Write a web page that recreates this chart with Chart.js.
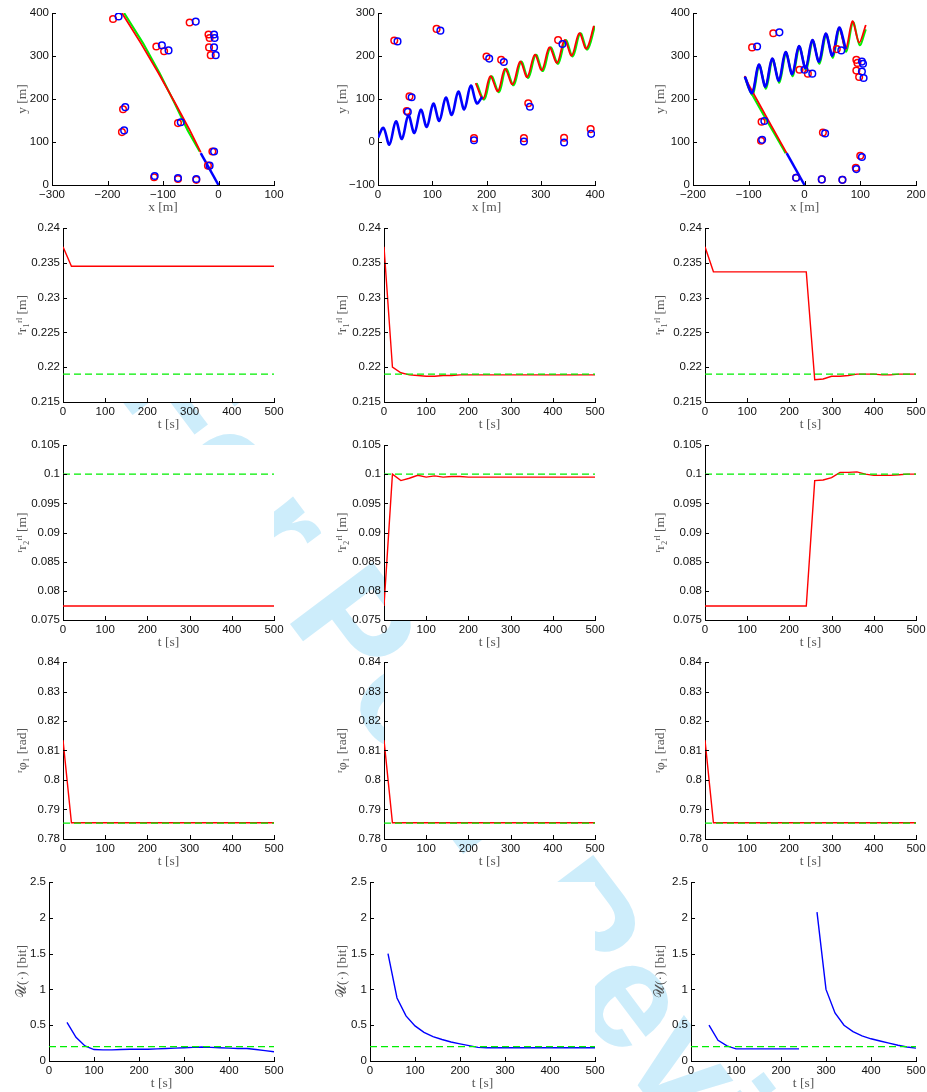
<!DOCTYPE html>
<html>
<head>
<meta charset="utf-8">
<script src="https://cdn.jsdelivr.net/npm/chart.js@4.4.1/dist/chart.umd.min.js"></script>
<style>
  html, body { margin: 0; padding: 0; background: #fff; width: 927px; height: 1092px; overflow: hidden; position: relative; }
  canvas { position: absolute; }
  #wm {
    position: absolute; left: -147px; top: 737px; width: 1300px; height: 180px;
    line-height: 180px; text-align: center; white-space: nowrap;
    font: bold 150px "Liberation Sans", Arial, sans-serif; color: #cdedfb;
    transform: rotate(53deg);
  }
</style>
</head>
<body>
<div id="wm">For Peer Review</div>
<script>
// time axis (rows 2-5)
const t = [0,20,40,60,80,100,120,140,160,180,200,220,240,260,280,300,320,340,360,380,400,420,440,460,480,500];

// row 1 : trajectories [x, y] in metres
const trajA_blue  = [[0,0],[-32,74]];
const trajA_red   = [[-32,76],[-52,128],[-78,190],[-108,260],[-140,330],[-174,400]];
const trajA_green = [[-34,78],[-56,128],[-79,190],[-106,260],[-136,330],[-170,400]];
const markA_red  = [[-190,386],[-52,378],[-112,322],[-98,311],[-18,350],[-16,342],[-17,320],[-14,302],[-172,176],[-174,123],[-73,144],[-11,78],[-19,45],[-116,18],[-73,14],[-40,12]];
const markA_blue = [[-180,392],[-41,380],[-102,325],[-90,313],[-8,350],[-7,342],[-8,320],[-5,302],[-168,181],[-170,127],[-68,146],[-8,78],[-16,45],[-115,21],[-73,16],[-40,14]];

const trajB_blue  = [[0,10],[10,33],[21,-6],[33,48],[44,7],[56,62],[67,21],[79,75],[90,35],[102,89],[113,49],[125,103],[136,63],[148,117],[159,76],[171,131],[182,90],[192,105]];
const trajB_red   = [[180,137],[194,101],[207,153],[221,118],[234,170],[248,134],[262,187],[275,151],[289,203],[302,167],[316,220],[330,184],[344,237],[357,201],[371,253],[384,217],[398,270]];
const trajB_green = [[182,137],[196,99],[209,153],[223,116],[236,170],[250,132],[264,187],[277,149],[291,203],[304,165],[318,220],[332,182],[346,237],[359,199],[373,253],[386,215],[400,270]];
const markB_red  = [[30,236],[108,263],[200,199],[227,191],[332,237],[58,106],[53,72],[277,90],[177,9],[269,9],[343,10],[392,30]];
const markB_blue = [[36,234],[115,259],[205,194],[232,186],[340,228],[62,104],[55,70],[280,82],[177,4],[269,1],[343,-1],[393,19]];

const trajC_blue1 = [[0,0],[-32,74]];
const trajC_blue2 = [[-107,252],[-94,214],[-82,280],[-70,229],[-58,294],[-46,243],[-34,309],[-22,258],[-10,323],[2,272],[14,337],[26,287],[38,352],[50,301],[62,366],[74,316]];
const trajC_red   = [[-32,74],[-98,228],[-107,252],[-94,214],[-82,280],[-70,229],[-58,294],[-46,243],[-34,309],[-22,258],[-10,323],[2,272],[14,337],[26,287],[38,352],[50,301],[62,366],[74,316],[86,381],[98,331],[110,372]];
const trajC_green = [[-34,74],[-100,225],[-106,250],[-93,209],[-81,278],[-69,224],[-57,292],[-45,238],[-33,307],[-21,253],[-9,321],[3,267],[15,335],[27,282],[39,350],[51,296],[63,364],[75,310],[87,379],[99,325],[110,362]];
const markC_red  = [[-94,320],[-56,353],[-9,268],[6,259],[58,316],[93,291],[95,284],[93,266],[98,251],[-77,147],[-78,103],[33,122],[100,68],[92,40],[-15,17],[31,13],[68,12]];
const markC_blue = [[-85,322],[-45,355],[0,268],[14,259],[66,313],[103,287],[105,282],[103,264],[106,249],[-72,149],[-76,105],[37,120],[103,65],[93,37],[-15,17],[31,13],[68,12]];

// row 2 : r1 [m]
const r1Ref = 0.219;
const r1A = [0.2373,0.2345,0.2345,0.2345,0.2345,0.2345,0.2345,0.2345,0.2345,0.2345,0.2345,0.2345,0.2345,0.2345,0.2345,0.2345,0.2345,0.2345,0.2345,0.2345,0.2345,0.2345,0.2345,0.2345,0.2345,0.2345];
const r1B = [0.2373,0.2200,0.2192,0.2189,0.2188,0.2187,0.2187,0.2188,0.2188,0.2189,0.2189,0.2189,0.2189,0.2189,0.2189,0.2189,0.2189,0.2189,0.2189,0.2189,0.2189,0.2189,0.2189,0.2189,0.2189,0.2189];
const r1C = [0.2373,0.2337,0.2337,0.2337,0.2337,0.2337,0.2337,0.2337,0.2337,0.2337,0.2337,0.2337,0.2337,0.2182,0.2183,0.2187,0.2187,0.2188,0.2190,0.2190,0.2190,0.2189,0.2189,0.2190,0.2190,0.2190];

// row 3 : r2 [m]
const r2Ref = 0.1;
const r2A = [0.0774,0.0774,0.0774,0.0774,0.0774,0.0774,0.0774,0.0774,0.0774,0.0774,0.0774,0.0774,0.0774,0.0774,0.0774,0.0774,0.0774,0.0774,0.0774,0.0774,0.0774,0.0774,0.0774,0.0774,0.0774,0.0774];
const r2B = [0.0774,0.1000,0.0989,0.0993,0.0998,0.0995,0.0997,0.0995,0.0996,0.0996,0.0995,0.0995,0.0995,0.0995,0.0995,0.0995,0.0995,0.0995,0.0995,0.0995,0.0995,0.0995,0.0995,0.0995,0.0995,0.0995];
const r2C = [0.0774,0.0774,0.0774,0.0774,0.0774,0.0774,0.0774,0.0774,0.0774,0.0774,0.0774,0.0774,0.0774,0.0989,0.0990,0.0994,0.1003,0.1003,0.1004,0.1000,0.0998,0.0998,0.0998,0.0999,0.1000,0.1000];

// row 4 : phi1 [rad]
const phiRef = 0.7854;
const phiA = [0.8135,0.7855,0.7855,0.7855,0.7855,0.7855,0.7855,0.7855,0.7855,0.7855,0.7855,0.7855,0.7855,0.7855,0.7855,0.7855,0.7855,0.7855,0.7855,0.7855,0.7855,0.7855,0.7855,0.7855,0.7855,0.7855];
const phiB = phiA.slice();
const phiC = phiA.slice();

// row 5 : U [bit]
const uRef = 0.2;
const uA = [null,null,0.54,0.33,0.21,0.16,0.155,0.155,0.16,0.165,0.165,0.165,0.17,0.175,0.18,0.185,0.19,0.195,0.19,0.185,0.18,0.175,0.175,0.16,0.145,0.13];
const uB = [null,null,1.50,0.88,0.63,0.49,0.40,0.34,0.30,0.265,0.24,0.215,0.19,0.185,0.185,0.185,0.185,0.185,0.185,0.185,0.185,0.185,0.185,0.185,0.185,0.185];
const uC = [null,null,0.50,0.29,0.21,0.17,0.17,0.17,0.17,0.17,0.17,0.17,0.17,null,2.08,1.00,0.67,0.50,0.41,0.35,0.31,0.28,0.25,0.22,0.195,0.18];

const RED = '#ff0000', GREEN = '#00ee00', BLUE = '#0000ff';

const pairs = a => a.map(([x, y]) => ({x, y}));
const series = ys => t.map((x, i) => ({x, y: ys[i]}));
const flat = v => [{x: 0, y: v}, {x: 500, y: v}];

const line = (data, color, w, dash) => ({
  data, borderColor: color, borderWidth: w, borderDash: dash || [],
  showLine: true, pointRadius: 0, tension: 0, fill: false
});
const zig = (data, color, w, k) => Object.assign(line(data, color, w), {tension: k || 0.35});
const marks = (data, color) => ({
  data, showLine: false, pointRadius: 3.3, pointBorderWidth: 1.5,
  pointBorderColor: color, pointBackgroundColor: 'rgba(0,0,0,0)'
});

// white axes background + inward matlab-style ticks
const axesBox = {
  id: 'axesBox',
  beforeDraw(chart) {
    const a = chart.chartArea, ctx = chart.ctx;
    ctx.save();
    ctx.fillStyle = '#fff';
    ctx.fillRect(a.left, a.top, a.right - a.left, a.bottom - a.top);
    ctx.restore();
  },
  afterDraw(chart) {
    const ctx = chart.ctx, a = chart.chartArea;
    const xs = chart.scales.x, ys = chart.scales.y;
    ctx.save();
    ctx.strokeStyle = '#000';
    ctx.lineWidth = 1;
    ctx.beginPath();
    xs.ticks.forEach(tk => {
      const p = Math.round(xs.getPixelForValue(tk.value)) + 0.5;
      ctx.moveTo(p, a.bottom); ctx.lineTo(p, a.bottom - 4);
    });
    ys.ticks.forEach(tk => {
      const p = Math.round(ys.getPixelForValue(tk.value)) + 0.5;
      ctx.moveTo(a.left, p); ctx.lineTo(a.left + 4, p);
    });
    ctx.stroke();
    ctx.restore();
  }
};

const fmt = v => String(parseFloat(Number(v).toFixed(4))).replace('-', '\u2212');

// layout of the 5x3 grid
const colX = [[[52,274],[378,595],[693,916]],
              [[63,274],[384,595],[705,916]],
              [[63,274],[384,595],[705,916]],
              [[63,274],[384,595],[705,916]],
              [[49,274],[370,595],[691,916]]];
const rowY = [[13,185],[228,402],[445,620],[662,839],[882,1061]];
const titleX = [22, 342, 660];

function panel(row, col, datasets, xr, yr, xTitle, yTitle) {
  const [L, R] = colX[row][col], [T, B] = rowY[row];
  const padL = L - titleX[col] + 8, padT = 10, padR = 16, padB = 31;
  const cv = document.createElement('canvas');
  const w = padL + (R - L) + padR, h = padT + (B - T) + padB;
  cv.width = w; cv.height = h;
  cv.style.left = (L - padL) + 'px';
  cv.style.top = (T - padT) + 'px';
  cv.style.width = w + 'px'; cv.style.height = h + 'px';
  document.body.appendChild(cv);
  const tickFont = {family: '"Liberation Sans", Arial, sans-serif', size: 11.5};
  const titleFont = {family: '"Liberation Serif", "DejaVu Serif", serif', size: 13.5};
  const axis = (r, title, isX) => ({
    type: 'linear', min: r[0], max: r[1],
    grid: {drawOnChartArea: false, drawTicks: false},
    border: {display: true, color: '#000', width: 1},
    ticks: {stepSize: r[2], font: tickFont, color: '#111', padding: 3,
            maxRotation: 0, autoSkip: false, callback: fmt},
    title: {display: true, text: title, font: titleFont, color: '#555', padding: 0},
    afterFit: s => { if (isX) s.height = padB; else s.width = padL; }
  });
  new Chart(cv, {
    type: 'scatter',
    data: {datasets},
    options: {
      responsive: false, animation: false,
      layout: {padding: {left: 0, top: padT, right: padR, bottom: 0}},
      plugins: {legend: {display: false}, tooltip: {enabled: false}},
      scales: {x: axis(xr, xTitle, true), y: axis(yr, yTitle, false)}
    },
    plugins: [axesBox]
  });
}

// row 1
panel(0, 0, [marks(pairs(markA_blue), BLUE), marks(pairs(markA_red), RED),
             line(pairs(trajA_blue), BLUE, 2.5), line(pairs(trajA_red), RED, 1.8), line(pairs(trajA_green), GREEN, 2)],
      [-300, 100, 100], [0, 400, 100], 'x [m]', 'y [m]');
panel(0, 1, [marks(pairs(markB_blue), BLUE), marks(pairs(markB_red), RED),
             zig(pairs(trajB_blue), BLUE, 2.6), zig(pairs(trajB_red), RED, 1.8), zig(pairs(trajB_green), GREEN, 2)],
      [0, 400, 100], [-100, 300, 100], 'x [m]', 'y [m]');
panel(0, 2, [marks(pairs(markC_blue), BLUE), marks(pairs(markC_red), RED),
             line(pairs(trajC_blue1), BLUE, 2.5), zig(pairs(trajC_blue2), BLUE, 2.6),
             zig(pairs(trajC_red), RED, 1.8, 0.3), zig(pairs(trajC_green), GREEN, 2, 0.3)],
      [-200, 200, 100], [0, 400, 100], 'x [m]', 'y [m]');

// rows 2-5
const rows = [
  {vals: [r1A, r1B, r1C], ref: r1Ref, y: [0.215, 0.24, 0.005], title: '\u02b3r\u2081\u02b3\u02e1 [m]', color: RED},
  {vals: [r2A, r2B, r2C], ref: r2Ref, y: [0.075, 0.105, 0.005], title: '\u02b3r\u2082\u02b3\u02e1 [m]', color: RED},
  {vals: [phiA, phiB, phiC], ref: phiRef, y: [0.78, 0.84, 0.01], title: '\u02b3\u03c6\u2081 [rad]', color: RED},
  {vals: [uA, uB, uC], ref: uRef, y: [0, 2.5, 0.5], title: '\u{1D4B0}(\u00b7) [bit]', color: BLUE}
];
rows.forEach((r, i) => {
  r.vals.forEach((v, c) => {
    panel(i + 1, c, [line(flat(r.ref), GREEN, 1.3, [7, 4]), line(series(v), r.color, 1.4)],
          [0, 500, 100], r.y, 't [s]', r.title);
  });
});
</script>
</body>
</html>
